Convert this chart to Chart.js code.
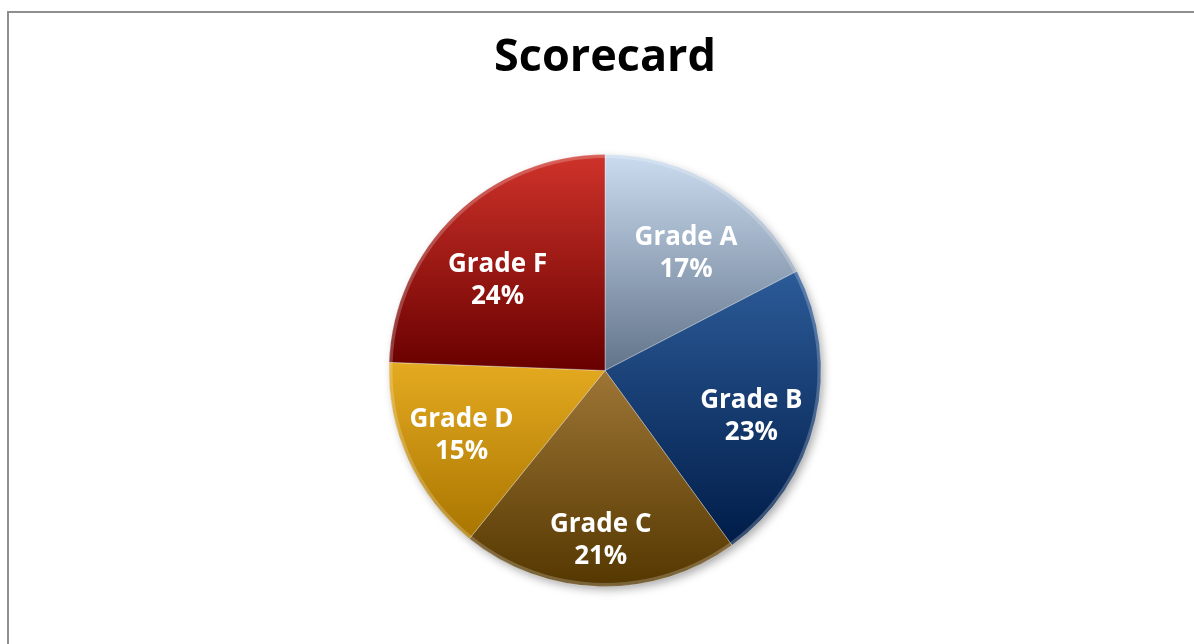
<!DOCTYPE html>
<html>
<head>
<meta charset="utf-8">
<script src="https://cdn.jsdelivr.net/npm/chart.js@4.4.1/dist/chart.umd.min.js"></script>
<style>
  html, body { margin: 0; padding: 0; background: #ffffff; overflow: hidden; }
  #wrap { position: relative; width: 1194px; height: 644px; }
  #frame { position: absolute; left: 7px; top: 11px; right: -10px; bottom: -10px; border-left: 2px solid #8e8e8e; border-top: 2px solid #8e8e8e; pointer-events: none; }
  canvas { position: absolute; left: 0; top: 0; }
</style>
</head>
<body>
<div id="wrap">
  <canvas id="c" width="1194" height="644"></canvas>
  <div id="frame"></div>
</div>
<script>
const chartTitle = 'Scorecard';
const categories = ['Grade A', 'Grade B', 'Grade C', 'Grade D', 'Grade F'];
const values = [17.4, 22.6, 20.8, 14.8, 24.4];
const topColors = ['#cbdcf0', '#2c5b98', '#9e7636', '#e4aa20', '#cf332a'];
const bottomColors = ['#62748a', '#001c48', '#543700', '#a97500', '#680000'];

const labelRadiusFrac = [0.66, 0.71, 0.79, 0.73, 0.65];
const labelAngleShiftDeg = [3.3, 4, 0, 0, -6];
const FONT = "'Open Sans', 'DejaVu Sans', sans-serif";

function sliceGradient(ctx) {
  const chart = ctx.chart;
  const i = ctx.dataIndex;
  const area = chart.chartArea;
  if (!area || i === undefined) return bottomColors[i] || '#888';
  const cx = (area.left + area.right) / 2;
  const cy = (area.top + area.bottom) / 2;
  const r = Math.min(area.right - area.left, area.bottom - area.top) / 2;
  const total = values.reduce((a, b) => a + b, 0);
  let cum = 0;
  for (let k = 0; k < i; k++) cum += values[k];
  const a0 = -Math.PI / 2 + 2 * Math.PI * cum / total;
  const a1 = a0 + 2 * Math.PI * values[i] / total;
  const ys = [cy, cy + r * Math.sin(a0), cy + r * Math.sin(a1)];
  const within = (ang) => {
    for (let t = -1; t <= 1; t++) {
      const a = ang + t * 2 * Math.PI;
      if (a >= a0 && a <= a1) return true;
    }
    return false;
  };
  if (within(-Math.PI / 2)) ys.push(cy - r);
  if (within(Math.PI / 2)) ys.push(cy + r);
  const y0 = Math.min(...ys), y1 = Math.max(...ys);
  const g = chart.ctx.createLinearGradient(0, y0, 0, y1);
  g.addColorStop(0, topColors[i]);
  g.addColorStop(1, bottomColors[i]);
  return g;
}

const shadowPlugin = {
  id: 'pieShadow',
  beforeDatasetsDraw(chart) {
    const meta = chart.getDatasetMeta(0);
    if (!meta.data.length) return;
    const el = meta.data[0];
    const c = chart.ctx;
    c.save();
    c.shadowColor = 'rgba(0,0,0,0.35)';
    c.shadowBlur = 10;
    c.shadowOffsetX = 3;
    c.shadowOffsetY = 4;
    c.beginPath();
    c.arc(el.x, el.y, el.outerRadius - 1, 0, Math.PI * 2);
    c.fillStyle = '#777';
    c.fill();
    c.restore();
  }
};

const labelPlugin = {
  id: 'sliceLabels',
  afterDatasetsDraw(chart) {
    const meta = chart.getDatasetMeta(0);
    const c = chart.ctx;
    const total = values.reduce((a, b) => a + b, 0);
    if (meta.data.length) {
      const e0 = meta.data[0];
      c.save();
      c.beginPath();
      c.arc(e0.x, e0.y, e0.outerRadius - 2, 0, Math.PI * 2);
      c.strokeStyle = 'rgba(255,255,255,0.22)';
      c.lineWidth = 3;
      c.stroke();
      c.restore();
    }
    c.save();
    c.fillStyle = '#ffffff';
    c.textAlign = 'center';
    c.textBaseline = 'middle';
    c.font = "bold 26px " + FONT;
    meta.data.forEach((el, i) => {
      const mid = (el.startAngle + el.endAngle) / 2 + labelAngleShiftDeg[i] * Math.PI / 180;
      const rr = el.outerRadius * labelRadiusFrac[i];
      const x = el.x + rr * Math.cos(mid);
      const y = el.y + rr * Math.sin(mid);
      const pct = Math.round(values[i] / total * 100) + '%';
      c.fillText(categories[i], x, y - 16);
      c.fillText(pct, x, y + 16);
    });
    c.restore();
  }
};

new Chart(document.getElementById('c'), {
  type: 'pie',
  data: {
    labels: categories,
    datasets: [{
      data: values,
      backgroundColor: sliceGradient,
      borderColor: 'rgba(255,255,255,0.35)',
      borderWidth: 1
    }]
  },
  options: {
    responsive: false,
    animation: false,
    layout: { padding: { left: 16, right: 0, top: 0, bottom: 57 } },
    plugins: {
      legend: { display: false },
      tooltip: { enabled: false },
      title: {
        display: true,
        text: chartTitle,
        color: '#000000',
        font: { family: FONT, size: 45, weight: 'bold', lineHeight: 1.2 },
        padding: { top: 31, bottom: 69 }
      }
    }
  },
  plugins: [shadowPlugin, labelPlugin]
});
</script>
</body>
</html>
